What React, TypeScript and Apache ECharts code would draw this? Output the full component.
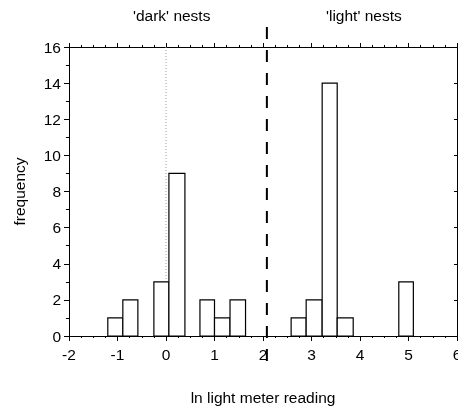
import React, { useEffect, useRef } from "react";
import * as echarts from "echarts";

const binStart = [-1.2, -0.89, -0.25, 0.06, 0.7, 1.0, 1.32, 2.58, 2.89, 3.22, 3.53, 4.8];
const binEnd = [-0.89, -0.58, 0.06, 0.39, 1.0, 1.32, 1.64, 2.89, 3.22, 3.53, 3.86, 5.1];
const counts = [1, 2, 3, 9, 2, 1, 2, 1, 2, 14, 1, 3];
const xTicks = [-2, -1, 0, 1, 2, 3, 4, 5, 6];
const yTicks = [0, 2, 4, 6, 8, 10, 12, 14, 16];
const splitX = 2.08;
const refLineX = 0;
const refLineTop = 16;
const refLineBottom = 3;

const FONT = "'Liberation Sans', Arial, Helvetica, sans-serif";
const FS = 15.5;

export default function App() {
  const ref = useRef<HTMLDivElement>(null);
  useEffect(() => {
    if (!ref.current) return;
    const chart = echarts.init(ref.current, null, { renderer: "svg" });
    const barData = counts.map((c, i) => [binStart[i], binEnd[i], c]);
    const axisCommon = {
      type: "value" as const,
      min: xTicks[0],
      max: xTicks[xTicks.length - 1],
      interval: 1,
      splitLine: { show: false },
    };
    chart.setOption({
      animation: false,
      textStyle: { fontFamily: FONT },
      grid: {
        left: 69,
        right: 1,
        top: 47,
        bottom: 70,
        containLabel: false,
        outerBoundsMode: "none",
      },
      graphic: [
        {
          type: "text",
          left: 133,
          top: 7,
          style: { text: "'dark' nests", font: `${FS}px ${FONT}`, fill: "#000" },
        },
        {
          type: "text",
          left: 326,
          top: 7,
          style: { text: "'light' nests", font: `${FS}px ${FONT}`, fill: "#000" },
        },
      ],
      xAxis: [
        {
          ...axisCommon,
          position: "bottom",
          axisLine: { show: true, onZero: false, lineStyle: { color: "#000", width: 1 } },
          axisTick: { show: true, length: 5, lineStyle: { color: "#000" } },
          minorTick: { show: true, splitNumber: 4, length: 2, lineStyle: { color: "#000" } },
          axisLabel: {
            color: "#000",
            fontSize: FS,
            margin: 10,
            fontFamily: FONT,
            formatter: (v: number) => (xTicks.includes(v) ? String(v) : ""),
          },
          name: "ln light meter reading",
          nameLocation: "middle",
          nameGap: 53,
          nameTextStyle: { color: "#000", fontSize: FS, fontFamily: FONT },
        },
        {
          ...axisCommon,
          position: "top",
          axisLine: { show: true, onZero: false, lineStyle: { color: "#000", width: 1 } },
          axisTick: { show: true, length: 4, lineStyle: { color: "#000" } },
          minorTick: { show: true, splitNumber: 4, length: 2, lineStyle: { color: "#000" } },
          axisLabel: { show: false },
        },
      ],
      yAxis: [
        {
          type: "value",
          min: 0,
          max: 16,
          interval: 2,
          position: "left",
          splitLine: { show: false },
          axisLine: { show: true, onZero: false, lineStyle: { color: "#000", width: 1 } },
          axisTick: { show: true, length: 5, lineStyle: { color: "#000" } },
          minorTick: { show: true, splitNumber: 2, length: 3, lineStyle: { color: "#000" } },
          axisLabel: {
            color: "#000",
            fontSize: FS,
            margin: 8,
            fontFamily: FONT,
            formatter: (v: number) => (yTicks.includes(v) ? String(v) : ""),
          },
          name: "frequency",
          nameLocation: "middle",
          nameGap: 42,
          nameTextStyle: { color: "#000", fontSize: FS, fontFamily: FONT },
        },
        {
          type: "value",
          min: 0,
          max: 16,
          interval: 2,
          position: "right",
          splitLine: { show: false },
          axisLine: { show: true, onZero: false, lineStyle: { color: "#000", width: 1 } },
          axisTick: { show: true, inside: true, length: 3, lineStyle: { color: "#000" } },
          axisLabel: { show: false },
        },
      ],
      series: [
        {
          type: "custom",
          xAxisIndex: 0,
          yAxisIndex: 0,
          data: barData,
          encode: { x: [0, 1], y: 2 },
          renderItem: (params: any, api: any) => {
            const s = api.value(0);
            const e = api.value(1);
            const c = api.value(2);
            const p0 = api.coord([s, c]);
            const p1 = api.coord([e, 0]);
            return {
              type: "rect",
              shape: { x: p0[0], y: p0[1], width: p1[0] - p0[0], height: p1[1] - p0[1] },
              style: { fill: "#fff", stroke: "#000", lineWidth: 1.2 },
            };
          },
        },
        {
          type: "custom",
          xAxisIndex: 0,
          yAxisIndex: 0,
          clip: false,
          data: [[refLineX, refLineTop, refLineBottom]],
          encode: { x: 0, y: [1, 2] },
          z: 1,
          renderItem: (params: any, api: any) => {
            const a = api.coord([api.value(0), api.value(1)]);
            const b = api.coord([api.value(0), api.value(2)]);
            return {
              type: "line",
              shape: { x1: a[0], y1: a[1], x2: b[0], y2: b[1] },
              style: { stroke: "#999", lineWidth: 1, lineDash: [1, 2] },
            };
          },
        },
        {
          type: "custom",
          xAxisIndex: 0,
          yAxisIndex: 0,
          clip: false,
          data: [[splitX, 16, 0]],
          encode: { x: 0, y: [1, 2] },
          z: 5,
          renderItem: (params: any, api: any) => {
            const a = api.coord([api.value(0), api.value(1)]);
            const b = api.coord([api.value(0), api.value(2)]);
            return {
              type: "line",
              shape: { x1: a[0], y1: a[1] - 20, x2: b[0], y2: b[1] + 32 },
              style: { stroke: "#000", lineWidth: 2, lineDash: [12, 11] },
            };
          },
        },
      ],
    });
    return () => chart.dispose();
  }, []);
  return (
    <div
      ref={ref}
      style={{ position: "fixed", left: 0, top: 0, width: 458, height: 406 }}
    />
  );
}
